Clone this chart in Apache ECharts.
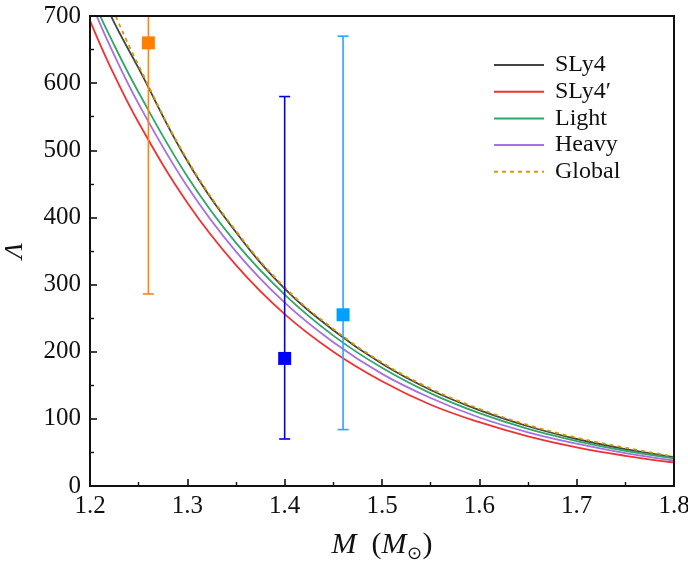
<!DOCTYPE html>
<html>
<head>
<meta charset="utf-8">
<script src="https://cdn.jsdelivr.net/npm/echarts@6/dist/echarts.min.js"></script>
<style>
html,body{margin:0;padding:0;background:#fff;}
#chart{width:688px;height:563px;}
</style>
</head>
<body>
<div id="chart"></div>
<script>
// ---- data ----
const masses = [1.20, 1.22, 1.25, 1.30, 1.35, 1.40, 1.45, 1.50, 1.55, 1.60, 1.65, 1.70, 1.75, 1.80];
const sly4      = [780, 705, 622, 484, 378, 294, 232, 182, 143, 113, 89, 70, 55, 43];
const sly4prime = [693, 627, 541, 422, 329, 256, 200, 156, 121, 95, 74, 57.5, 45, 35];
const light     = [733, 671, 586, 461, 362, 285, 224, 176, 138, 108.5, 85, 67, 52.5, 41.3];
const heavy     = [724, 657, 569, 446, 349, 273, 214, 167, 131, 102, 80, 63, 49, 38];
const globalFit = [800, 722, 626, 486, 380, 296, 234, 184, 145, 115, 91, 72, 57, 44];

const errX    = [1.26, 1.40, 1.46];
const errY    = [660, 190, 255];
const errLow  = [286, 70, 84];
const errHigh = [760, 580, 670];
const errMarkerColors = ['#ff8000', '#0000ff', '#00a0ff'];
const errLineColors   = ['#ff8410', '#0000e6', '#2aa4ff'];

const xTicks = [1.2, 1.3, 1.4, 1.5, 1.6, 1.7, 1.8];
const yTicks = [0, 100, 200, 300, 400, 500, 600, 700];

const seriesNames = ['SLy4', 'SLy4\u2032', 'Light', 'Heavy', 'Global'];
const seriesData = [sly4, sly4prime, light, heavy, globalFit];
const seriesColors = ['#444444', '#ee3333', '#2ea866', '#a870e0', '#d89a00'];
const seriesTypes = ['solid', 'solid', 'solid', 'solid', [4, 4]];

const FONT = 'Liberation Serif';

const chart = echarts.init(document.getElementById('chart'), null, {renderer: 'canvas'});

const lineSeries = seriesNames.map((n, i) => ({
  name: n,
  type: 'line',
  data: masses.map((m, j) => [m, seriesData[i][j]]),
  smooth: 0.4,
  symbol: 'none',
  showSymbol: false,
  clip: true,
  lineStyle: {color: seriesColors[i], width: 1.8, type: seriesTypes[i]},
  itemStyle: {color: seriesColors[i]},
  z: 3
}));

const errSeries = {
  type: 'custom',
  clip: true,
  data: errX.map((x, i) => [x, errLow[i], errHigh[i], i]),
  renderItem: function (params, api) {
    const x = api.value(0);
    const lo = api.coord([x, api.value(1)]);
    const hi = api.coord([x, api.value(2)]);
    const idx = api.value(3);
    const c = errLineColors[idx];
    const hw = 5.5;
    const st = {stroke: c, lineWidth: 1.6, opacity: 1};
    return {
      type: 'group',
      children: [
        {type: 'line', shape: {x1: lo[0], y1: lo[1], x2: hi[0], y2: hi[1]}, style: st},
        {type: 'line', shape: {x1: lo[0] - hw, y1: lo[1], x2: lo[0] + hw, y2: lo[1]}, style: st},
        {type: 'line', shape: {x1: hi[0] - hw, y1: hi[1], x2: hi[0] + hw, y2: hi[1]}, style: st}
      ]
    };
  },
  z: 4
};

const pointSeries = {
  type: 'scatter',
  data: errX.map((x, i) => ({value: [x, errY[i]], itemStyle: {color: errMarkerColors[i], opacity: 1}})),
  symbol: 'rect',
  symbolSize: 13,
  itemStyle: {opacity: 1},
  z: 5
};

chart.setOption({
  animation: false,
  backgroundColor: '#fff',
  grid: {left: 90, right: 14, top: 16, bottom: 77, containLabel: false, outerBoundsMode: 'none',
    show: true, borderColor: '#111', borderWidth: 2, backgroundColor: 'transparent', z: 10},
  legend: {
    data: seriesNames,
    orient: 'vertical',
    left: 488,
    top: 48,
    itemWidth: 50,
    itemHeight: 14,
    itemGap: 2.7,
    itemStyle: {opacity: 0},
    textStyle: {fontFamily: FONT, fontSize: 24, color: '#111', lineHeight: 21, padding: [0, 0, 0, 6]}
  },
  xAxis: {
    type: 'value',
    min: 1.2, max: 1.8, interval: 0.1,
    name: '{i|M}  ({i|M}{s|\u2299})',
    nameLocation: 'middle',
    nameGap: 42,
    nameTextStyle: {
      fontFamily: FONT, fontSize: 30, color: '#111',
      rich: {
        i: {fontFamily: FONT, fontStyle: 'italic', fontSize: 30, color: '#111'},
        s: {fontFamily: FONT, fontSize: 18, color: '#111', padding: [17, 0, 0, 1]}
      }
    },
    axisLine: {show: true, lineStyle: {color: '#111', width: 2}},
    axisTick: {show: true, inside: true, length: 7, lineStyle: {color: '#111', width: 1.6}},
    minorTick: {show: true, splitNumber: 2, length: 4, lineStyle: {color: '#111', width: 1.4}},
    splitLine: {show: false},
    axisLabel: {fontFamily: FONT, fontSize: 25, color: '#111', margin: 8,
      formatter: v => (xTicks.some(t => Math.abs(t - v) < 1e-6) ? v.toFixed(1) : '')}
  },
  yAxis: {
    type: 'value',
    min: 0, max: 700, interval: 100,
    name: '\u039B',
    nameLocation: 'middle',
    nameGap: 62,
    nameRotate: 90,
    nameTextStyle: {fontFamily: FONT, fontStyle: 'italic', fontSize: 26, color: '#111'},
    axisLine: {show: true, lineStyle: {color: '#111', width: 2}},
    axisTick: {show: true, inside: true, length: 7, lineStyle: {color: '#111', width: 1.6}},
    minorTick: {show: true, splitNumber: 2, length: 4, lineStyle: {color: '#111', width: 1.4}},
    splitLine: {show: false},
    axisLabel: {fontFamily: FONT, fontSize: 25, color: '#111', margin: 9,
      formatter: v => (yTicks.indexOf(Math.round(v)) >= 0 ? String(Math.round(v)) : '')}
  },
  series: [...lineSeries, errSeries, pointSeries]
});
</script>
</body>
</html>
